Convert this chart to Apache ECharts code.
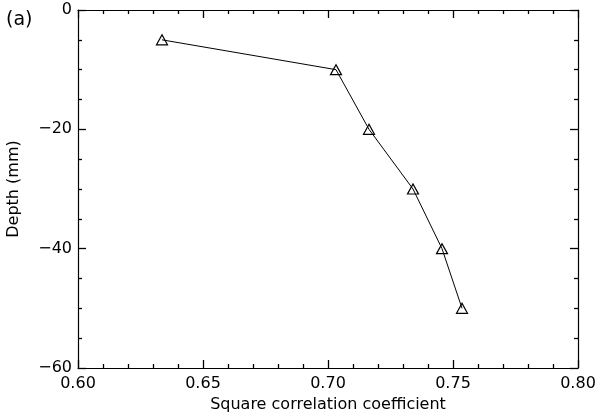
<!DOCTYPE html>
<html>
<head>
<meta charset="utf-8">
<script src="https://cdn.jsdelivr.net/npm/echarts@6/dist/echarts.min.js"></script>
<style>html,body{margin:0;padding:0;background:#fff}#c{width:596px;height:417px}</style>
</head>
<body>
<div id="c"></div>
<script>
const correlation = [0.6336, 0.7032, 0.7164, 0.7340, 0.7456, 0.7536];
const depth = [-5, -10, -20, -30, -40, -50];
const xTicks = [0.60, 0.65, 0.70, 0.75, 0.80];
const yTicks = [-60, -40, -20, 0];

const FONT = 'DejaVu Sans';
const chart = echarts.init(document.getElementById('c'), null, {renderer: 'canvas'});
function axisLine() { return {show: true, onZero: false, lineStyle: {color: '#000', width: 1.2}}; }
function majorTick() { return {show: true, inside: true, length: 8, lineStyle: {color: '#000', width: 1.3}}; }
function minorTick(n) { return {show: true, splitNumber: n, length: 4, lineStyle: {color: '#000', width: 1.3}}; }
const gridRect = {left: 78, right: 18, top: 10, bottom: 49, containLabel: false, outerBoundsMode: 'none'};

chart.setOption({
  animation: false,
  backgroundColor: '#fff',
  grid: [Object.assign({}, gridRect), Object.assign({}, gridRect)],
  xAxis: [{
    gridIndex: 0,
    type: 'value', min: xTicks[0], max: xTicks[xTicks.length - 1], interval: 0.05,
    position: 'bottom',
    name: 'Square correlation coefficient', nameLocation: 'middle', nameGap: 26,
    nameTextStyle: {fontFamily: FONT, fontSize: 16, color: '#000'},
    axisLine: axisLine(), axisTick: majorTick(), minorTick: minorTick(5),
    splitLine: {show: false},
    axisLabel: {fontFamily: FONT, fontSize: 16, color: '#000', margin: 8,
      formatter: v => v.toFixed(2)}
  }, {
    gridIndex: 1,
    type: 'value', min: xTicks[0], max: xTicks[xTicks.length - 1], interval: 0.05,
    position: 'top',
    axisLine: axisLine(), axisTick: majorTick(), minorTick: minorTick(5),
    splitLine: {show: false}, axisLabel: {show: false}
  }],
  yAxis: [{
    gridIndex: 0,
    type: 'value', min: yTicks[0], max: yTicks[yTicks.length - 1], interval: 20,
    position: 'left',
    name: 'Depth (mm)', nameLocation: 'middle', nameGap: 56, nameRotate: 90,
    nameTextStyle: {fontFamily: FONT, fontSize: 16, color: '#000'},
    axisLine: axisLine(), axisTick: majorTick(), minorTick: minorTick(4),
    splitLine: {show: false},
    axisLabel: {fontFamily: FONT, fontSize: 16, color: '#000', margin: 6,
      formatter: v => (v < 0 ? '\u2212' + Math.abs(v) : String(v))}
  }, {
    gridIndex: 1,
    type: 'value', min: yTicks[0], max: yTicks[yTicks.length - 1], interval: 20,
    position: 'right',
    axisLine: axisLine(), axisTick: majorTick(), minorTick: minorTick(4),
    splitLine: {show: false}, axisLabel: {show: false}
  }],
  graphic: [{
    type: 'text', left: 6, top: 11,
    style: {text: '(a)', fontFamily: FONT, fontSize: 19, fill: '#000'}
  }],
  series: [{
    type: 'line',
    xAxisIndex: 0, yAxisIndex: 0,
    data: correlation.map((c, i) => [c, depth[i]]),
    symbol: 'triangle', symbolSize: [11, 10],
    lineStyle: {color: '#000', width: 1},
    itemStyle: {color: 'rgba(0,0,0,0)', borderColor: '#000', borderWidth: 1.2},
    emphasis: {disabled: true}
  }, {
    type: 'line',
    xAxisIndex: 1, yAxisIndex: 1,
    data: [],
    silent: true
  }]
});
</script>
</body>
</html>
